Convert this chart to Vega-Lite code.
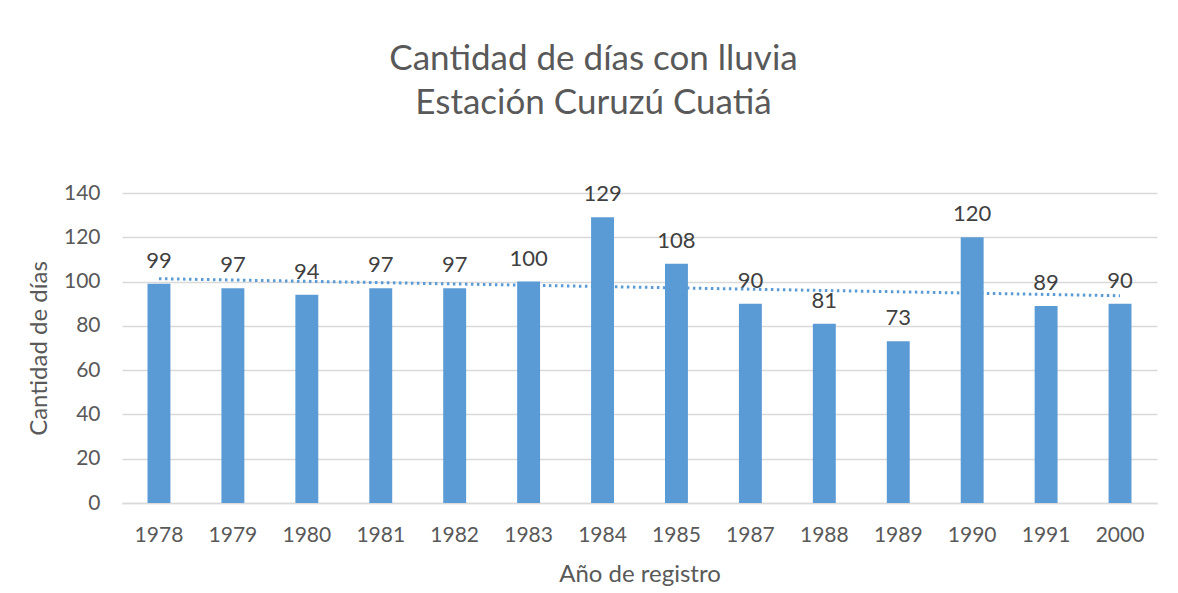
{
  "$schema": "https://vega.github.io/schema/vega-lite/v6.json",
  "autosize": "none",
  "width": 1035,
  "height": 310,
  "padding": {"left": 122, "top": 193, "right": 21, "bottom": 90},
  "background": "white",
  "config": {
    "font": "Lato",
    "view": {"stroke": null},
    "axis": {"labelColor": "#595959", "titleColor": "#595959", "labelFont": "Lato", "titleFont": "Lato", "titleFontWeight": "normal"}
  },
  "title": {
    "text": ["Cantidad de días con lluvia", "Estación Curuzú Cuatiá"],
    "font": "Lato",
    "fontSize": 35,
    "fontWeight": "normal",
    "color": "#595959",
    "anchor": "middle",
    "dx": -46,
    "lineHeight": 44,
    "offset": 61
  },
  "datasets": {
    "lluvia": [
      {"anio": "1978", "dias": 99},
      {"anio": "1979", "dias": 97},
      {"anio": "1980", "dias": 94},
      {"anio": "1981", "dias": 97},
      {"anio": "1982", "dias": 97},
      {"anio": "1983", "dias": 100},
      {"anio": "1984", "dias": 129},
      {"anio": "1985", "dias": 108},
      {"anio": "1987", "dias": 90},
      {"anio": "1988", "dias": 81},
      {"anio": "1989", "dias": 73},
      {"anio": "1990", "dias": 120},
      {"anio": "1991", "dias": 89},
      {"anio": "2000", "dias": 90}
    ],
    "tendencia": [
      {"anio": "1978", "dias": 101.3},
      {"anio": "2000", "dias": 93.6}
    ]
  },
  "layer": [
    {
      "data": {"name": "lluvia"},
      "mark": {"type": "bar", "color": "#5B9BD5"},
      "encoding": {
        "x": {
          "field": "anio", "type": "nominal", "sort": null,
          "scale": {"domain": ["1978","1979","1980","1981","1982","1983","1984","1985","1987","1988","1989","1990","1991","2000"], "paddingInner": 0.69, "paddingOuter": 0.345},
          "axis": {"title": "Año de registro", "labelAngle": 0, "labelFontSize": 21, "titleFontSize": 24, "labelPadding": 21, "titlePadding": 17, "ticks": false, "domainColor": "#D9D9D9", "domainWidth": 1.5}
        },
        "y": {
          "field": "dias", "type": "quantitative",
          "scale": {"domain": [0, 140]},
          "axis": {"title": "Cantidad de días", "values": [0,20,40,60,80,100,120,140], "labelFontSize": 21, "titleFontSize": 24, "labelPadding": 22, "titlePadding": 12, "ticks": false, "domain": false, "gridColor": "#D9D9D9", "gridWidth": 1.5}
        }
      }
    },
    {
      "data": {"name": "lluvia"},
      "mark": {"type": "text", "baseline": "bottom", "dy": -11, "fontSize": 22, "color": "#404040", "font": "Lato"},
      "encoding": {
        "x": {"field": "anio", "type": "nominal", "sort": null},
        "y": {"field": "dias", "type": "quantitative"},
        "text": {"field": "dias", "type": "quantitative"}
      }
    },
    {
      "data": {"name": "tendencia"},
      "mark": {"type": "line", "color": "#5B9BD5", "strokeWidth": 3, "strokeDash": [2.5, 3.5]},
      "encoding": {
        "x": {"field": "anio", "type": "nominal", "sort": null},
        "y": {"field": "dias", "type": "quantitative"}
      }
    }
  ]
}
